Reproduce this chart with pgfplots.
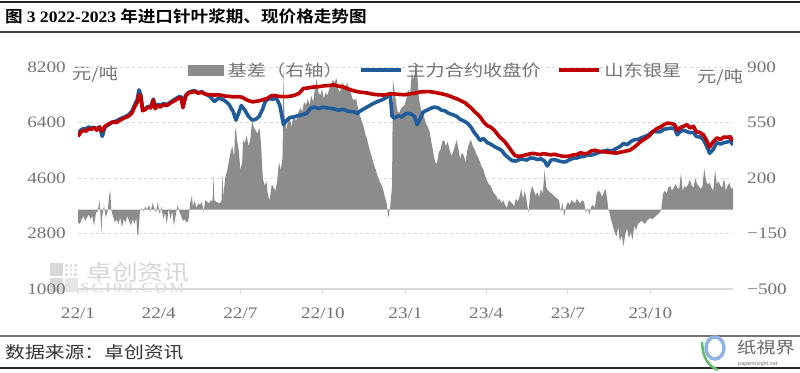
\documentclass[border=0pt]{standalone}
\usepackage{fontspec}
\usepackage{pgfplots}
\pgfplotsset{compat=1.18}
\setmainfont{Liberation Serif}
\newfontfamily\numfont[FakeStretch=1.2]{Liberation Serif}
\newfontfamily\numfontb[FakeStretch=1.1]{Liberation Serif Bold}
\newfontfamily\cjk[FakeStretch=1.2]{Noto Sans CJK SC}
\newfontfamily\cjkt[FakeStretch=1.1]{Noto Sans CJK SC Bold}
\definecolor{txtgray}{HTML}{737373}
\definecolor{basisgray}{HTML}{8C8C8C}
\definecolor{futblue}{HTML}{1F5C99}
\definecolor{spotred}{HTML}{C00000}
\definecolor{gridgray}{HTML}{D9D9D9}

\pgfplotstableread{
day val
0 0
0 -80
2 -90
4 -60
6 -40
8 -70
10 -50
12 -30
14 -60
16 -40
18 -100
20 -20
22 -10
24 60
25 -30
26 -150
27 -40
29 30
31 -50
33 -10
35 100
36 120
37 0
39 -40
41 -80
43 -60
45 -90
47 -50
49 -110
51 -60
53 -80
55 -40
57 -70
59 -100
61 -60
63 -90
65 -50
66 -150
67 -170
68 -90
69 -10
71 10
73 -10
75 20
77 0
79 30
81 -10
83 40
85 10
87 -20
89 50
91 -30
93 20
95 -60
97 -20
99 -90
101 10
103 -60
105 -10
107 -100
109 -30
111 30
113 -10
115 -40
117 -70
119 -60
121 -80
123 -70
125 40
127 90
128 20
130 60
132 10
134 40
136 30
138 50
140 -10
142 60
144 50
146 40
148 60
150 55
151 210
152 60
154 50
156 45
158 40
160 60
161 220
162 80
164 200
166 240
168 300
170 360
172 400
174 330
175 490
176 520
177 450
179 380
181 250
183 300
184 440
186 420
188 470
190 400
192 440
194 560
196 520
198 500
200 480
202 520
204 420
205 300
206 200
208 150
210 180
211 120
213 60
214 80
216 160
218 140
220 120
222 180
224 300
226 250
228 330
229 880
230 600
232 500
234 560
236 580
238 520
240 600
243 560
246 620
248 640
250 620
252 680
254 660
256 700
258 660
260 720
262 680
264 760
266 820
268 740
270 720
272 760
274 700
276 740
278 720
280 760
282 780
284 820
286 800
288 830
290 760
292 740
294 800
296 790
298 770
300 800
302 760
304 740
306 700
308 690
310 700
312 640
314 600
316 560
318 530
320 480
322 450
324 400
326 360
328 320
330 280
332 250
334 210
336 180
338 160
340 130
342 80
344 40
346 -50
348 20
350 150
351 820
352 780
354 700
356 620
358 610
360 640
362 650
364 660
366 700
368 760
370 720
372 860
374 820
376 880
377 900
378 860
380 700
382 640
384 600
386 580
388 540
390 520
392 490
394 420
396 360
398 300
400 290
402 360
404 380
406 430
408 440
410 400
412 430
414 380
416 340
418 360
420 400
422 440
424 380
426 320
428 360
430 340
432 300
434 380
436 420
438 440
440 400
442 380
444 350
446 330
448 300
450 270
452 250
454 210
456 180
458 160
460 150
462 120
464 100
466 90
468 60
470 70
472 40
474 60
476 30
478 10
480 60
482 50
484 40
486 20
488 70
490 50
492 80
494 130
496 70
498 120
500 60
502 -20
504 100
506 150
508 120
510 90
512 110
514 80
516 130
518 100
520 250
522 140
524 120
526 110
528 100
530 90
532 80
534 70
536 60
538 -10
540 40
542 -40
544 20
546 50
548 30
550 60
552 50
554 40
556 70
558 50
560 40
562 60
564 50
566 -20
568 10
570 -30
572 20
574 30
576 10
578 100
580 120
582 110
584 80
586 110
588 130
590 60
591 0
592 -10
594 -60
596 -100
598 -140
600 -170
602 -110
604 -200
606 -160
608 -230
610 -150
612 -120
614 -180
616 -140
618 -190
620 -100
622 -130
624 -90
626 -80
628 -70
630 -80
632 -90
634 -70
636 -60
638 -50
640 -60
642 -50
644 -40
646 -30
648 -20
650 0
651 50
652 100
654 120
656 100
658 140
660 150
662 120
664 140
666 160
668 140
670 130
672 230
674 120
676 150
678 140
680 160
682 190
684 150
686 140
688 200
690 160
692 150
694 130
696 150
698 260
700 180
702 160
704 170
706 140
708 120
710 250
712 160
714 180
716 150
718 140
720 200
722 120
724 150
726 170
728 130
730 140
730 0
}\basis

\pgfplotstableread{
day val
0 5950
3 6080
6 6150
9 6120
12 6200
15 6180
18 6230
21 6150
24 6250
27 6120
30 6280
34 6350
39 6420
43 6400
47 6480
52 6550
56 6600
60 6700
63 6900
66 7050
68 7300
70 7250
72 6780
75 6820
78 6900
81 6870
84 7130
86 6850
89 6950
92 6900
95 6980
99 6950
103 7030
106 7080
110 7150
113 7200
115 7180
117 6880
120 7250
123 7360
127 7380
130 7410
134 7350
138 7380
142 7320
147 7300
152 7290
157 7300
163 7260
168 7250
173 7230
178 7240
183 7220
187 7150
191 7100
195 7070
199 7090
203 7110
207 7150
211 7180
215 7260
219 7280
223 7250
228 7240
233 7240
238 7260
243 7300
247 7360
251 7500
256 7520
262 7550
268 7560
274 7590
280 7600
285 7620
290 7580
295 7560
300 7500
305 7450
311 7400
316 7380
322 7360
328 7320
334 7300
340 7290
346 7320
352 7330
358 7310
364 7300
370 7330
376 7350
381 7390
387 7400
392 7400
397 7380
402 7350
407 7320
411 7290
415 7250
419 7200
423 7160
427 7100
431 7050
435 6950
439 6850
442 6750
446 6650
449 6550
452 6420
456 6300
460 6250
464 6150
468 6000
471 5900
475 5800
479 5650
483 5480
487 5330
491 5300
495 5320
499 5350
503 5380
507 5400
511 5380
515 5360
519 5390
523 5370
527 5350
531 5370
535 5340
539 5310
543 5300
547 5310
552 5350
556 5360
560 5420
564 5390
568 5400
572 5480
576 5500
580 5470
585 5450
590 5440
595 5420
600 5410
605 5440
610 5470
615 5500
620 5600
624 5700
628 5800
632 5870
636 5950
641 6100
645 6200
649 6250
653 6330
657 6380
661 6370
665 6330
668 6150
671 6230
675 6280
679 6330
682 6220
686 6280
689 6100
693 6080
697 6000
700 5850
704 5600
708 5780
712 5900
716 5850
720 5930
724 5920
727 5940
730 5800
}\spot

\pgfplotstableread{
day val
0 6020
3 6150
6 6200
9 6200
12 6250
15 6230
18 6240
21 6200
24 6260
27 5950
30 6250
34 6330
39 6420
43 6450
47 6520
52 6580
56 6640
60 6760
63 6960
66 7150
68 7460
70 7300
72 6820
75 6850
78 6920
81 6900
84 7160
86 6900
89 6990
92 6960
95 7010
99 6990
103 7060
106 7120
110 7190
113 7240
115 7230
117 7060
120 7280
123 7370
127 7420
130 7430
134 7370
138 7400
142 7320
147 7250
152 7080
157 7200
163 7120
168 7000
173 6750
176 6480
179 6700
182 6950
186 6800
190 6600
194 6480
198 6500
202 6600
206 6850
209 7100
213 7180
217 7150
221 7200
225 6950
229 6330
232 6450
236 6560
240 6580
245 6620
250 6650
255 6700
259 6860
263 6900
268 6850
273 6900
278 6870
284 6850
290 6800
296 6830
301 6760
307 6750
311 6700
316 6800
322 6900
328 7000
334 7080
340 7150
344 7220
348 7350
350 6600
353 6540
357 6620
361 6580
366 6700
371 6680
375 6600
378 6330
381 6500
385 6750
389 6800
393 6860
397 6900
401 6880
405 6800
409 6780
413 6700
418 6650
422 6600
426 6500
430 6450
434 6380
438 6250
441 6100
445 5950
448 5820
452 5880
456 5750
460 5700
464 5620
468 5560
472 5500
476 5350
480 5250
484 5160
488 5150
492 5200
496 5210
500 5180
504 5250
508 5240
512 5200
516 5220
520 5150
523 4990
527 5180
531 5200
535 5160
539 5130
543 5120
547 5180
552 5240
556 5250
560 5290
564 5300
568 5350
572 5340
576 5380
580 5420
585 5470
590 5500
595 5480
600 5560
604 5620
608 5720
612 5680
616 5780
620 5840
624 5850
628 5900
632 5950
636 6000
641 6120
645 6100
649 6100
653 6180
657 6200
661 6220
665 6200
668 6000
671 6110
675 6150
679 6100
682 6070
686 6080
689 5950
693 5930
697 5850
700 5670
704 5400
708 5530
712 5750
716 5700
720 5750
724 5770
727 5810
730 5670
}\fut

\begin{document}
\begin{tikzpicture}[x=1pt,y=1pt]
\useasboundingbox (0,0) rectangle (800,372);
% frame lines
\draw[line width=1.5pt, black!85] (0,370) -- (800,370);
\draw[line width=2pt, black!75] (0,340) -- (800,340);
\draw[line width=2pt, black!55] (0,36) -- (800,36);
\draw[line width=2pt, black!85] (0,4) -- (800,4);
\node[anchor=west, inner sep=0pt] at (5,356) {\cjkt\fontsize{16}{16}\selectfont 图 {\numfontb 3 2022-2023} 年进口针叶浆期、现价格走势图};
\node[anchor=west, inner sep=0pt, text=black!80] at (5,20) {\cjk\fontsize{16.5}{16.5}\selectfont 数据来源：卓创资讯};

% watermark
\fill[black!15] (50,109) rectangle (63,96);
\fill[black!15] (50,94) rectangle (63,80);
\fill[black!10] (65,94) rectangle (78,80);
\foreach \i in {0,1,2} {\foreach \j in {0,1,2} {\fill[black!12] ({65+\i*4.5},{105-\j*4.5}) rectangle ++(2.8,2.8);}}
\node[anchor=west, inner sep=0pt, text=black!16] at (86,100) {\cjk\fontsize{21.5}{21.5}\selectfont 卓创资讯};
\node[anchor=west, inner sep=0pt, text=black!16] at (80,84) {\numfont\fontsize{14}{14}\selectfont S\,C\,I\,9\,9\,.\,C\,O\,M};

% bottom-right logo
\draw[line width=3.5pt, cyan!55!blue!45] (715,24) ellipse (9 and 11);
\draw[line width=2.5pt, green!55!black!60] (702,30) .. controls (703,12) and (709,6) .. (718,2);
\node[anchor=west, inner sep=0pt, text=black!60] at (737,25) {\cjk\fontsize{16}{16}\selectfont 纸視界};
\node[anchor=west, inner sep=0pt, text=black!55] at (738,8) {\fontspec{Liberation Sans}\fontsize{5.5}{5.5}\selectfont paperinsight.net};

% unit labels
\node[anchor=west, inner sep=0pt, text=txtgray] at (72,298) {\cjk\fontsize{16}{16}\selectfont 元/吨};
\node[anchor=west, inner sep=0pt, text=txtgray] at (697,295) {\cjk\fontsize{16}{16}\selectfont 元/吨};

\begin{axis}[
  at={(78pt,83pt)}, anchor=south west, scale only axis,
  width=655pt, height=222pt,
  xmin=0, xmax=730, ymin=-500, ymax=900,
  axis y line*=right, axis x line*=bottom,
  y axis line style={draw=none},
  x axis line style={draw=gridgray, line width=1.2pt, -},
  xtick={0,90,181,273,365,455,546,638},
  xticklabels={22/1,22/4,22/7,22/10,23/1,23/4,23/7,23/10},
  ytick={-500,-150,200,550,900},
  yticklabels={−500,−150,200,550,900},
  ymajorgrids, grid style={draw=gridgray, line width=0.8pt, dash pattern=on 3pt off 3pt},
  tick align=outside, major tick length=5pt,
  xtick style={draw=gridgray, line width=1pt},
  ytick style={draw=none},
  tick label style={font=\numfont\fontsize{16}{16}\selectfont, text=txtgray},
  xticklabel style={inner sep=0pt, yshift=-14pt},
  yticklabel style={inner sep=0pt, xshift=9pt},
  clip=false,
]
\addplot[fill=basisgray, draw=none] table[x=day, y=val] {\basis};
\end{axis}

\begin{axis}[
  at={(78pt,83pt)}, anchor=south west, scale only axis,
  width=655pt, height=222pt,
  xmin=0, xmax=730, ymin=1000, ymax=8200,
  axis y line*=left, axis x line=none,
  y axis line style={draw=none},
  ytick={1000,2800,4600,6400,8200},
  yticklabels={1000,2800,4600,6400,8200},
  ytick style={draw=none},
  tick label style={font=\numfont\fontsize{16}{16}\selectfont, text=txtgray},
  yticklabel style={inner sep=0pt, xshift=-12pt},
  legend columns=3,
  legend style={at={(0.168,0.986)}, anchor=west, draw=none, fill=none,
    font=\cjk\fontsize{16}{16}\selectfont, text=txtgray, inner sep=0pt,
    /tikz/every even column/.append style={column sep=14pt},
    /tikz/every odd column/.append style={column sep=2pt}},
  legend image code/.code={\draw[#1, line width=3.6pt] (0pt,0pt) -- (40pt,0pt);},
]
\addlegendimage{legend image code/.code={\fill[basisgray] (0pt,-5pt) rectangle (35pt,5pt);}}
\addlegendentry{基差（右轴）}
\addplot[color=futblue, line width=3.6pt, line join=round] table[x=day, y=val] {\fut};
\addlegendentry{主力合约收盘价}
\addplot[color=spotred, line width=3.6pt, line join=round] table[x=day, y=val] {\spot};
\addlegendentry{山东银星}
\end{axis}
\end{tikzpicture}
\end{document}
